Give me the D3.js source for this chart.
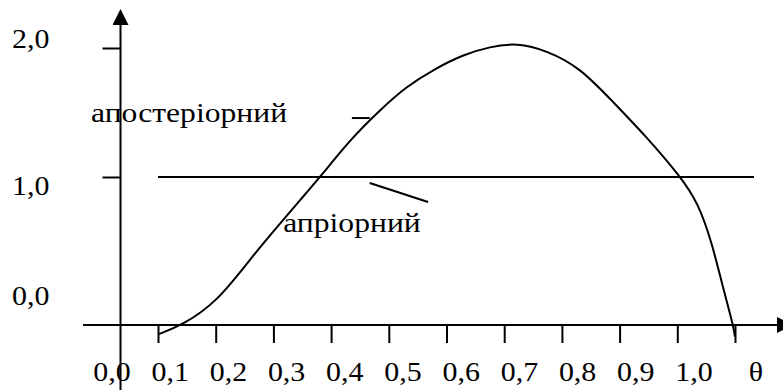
<!DOCTYPE html>
<html>
<head>
<meta charset="utf-8">
<script src="https://cdn.jsdelivr.net/npm/d3@7"></script>
<style>
  html, body { margin: 0; padding: 0; background: #fff; }
  svg { display: block; }
</style>
</head>
<body>
<script>
// Tick values and labels on the theta axis
const thetaTicks = [0, 0.1, 0.2, 0.3, 0.4, 0.5, 0.6, 0.7, 0.8, 0.9, 1.0];
const thetaLabels = ["0,0", "0,1", "0,2", "0,3", "0,4", "0,5", "0,6", "0,7", "0,8", "0,9", "1,0"];

// Density axis
const densityTicks = [1.0, 2.0];
const densityLabelValues = [2.0, 1.0, 0.0];
const densityLabels = ["2,0", "1,0", "0,0"];

// Posterior density
const posteriorTheta = [0.000, 0.042, 0.102, 0.159, 0.206, 0.246, 0.281, 0.333, 0.385, 0.430,
    0.480, 0.530, 0.575, 0.622, 0.674, 0.731, 0.789, 0.847, 0.906, 0.936, 0.960, 0.977, 0.997, 1.000];
const posteriorDensity = [-0.22, -0.15, 0.03, 0.36, 0.61, 0.82, 1.00, 1.29, 1.52, 1.70,
    1.84, 1.95, 2.01, 2.04, 1.98, 1.85, 1.58, 1.31, 1.00, 0.80, 0.49, 0.18, -0.15, -0.24];

// Prior (uniform) density
const priorTheta = [0.0, 1.033];
const priorDensity = [1.0, 1.0];

// Curve names
const posteriorName = "апостеріорний";
const priorName = "апріорний";

const width = 783, height = 390;
const fontFamily = "'Liberation Serif', serif";
const fontSize = 28;

const svg = d3.select("body")
    .append("svg")
    .attr("width", width)
    .attr("height", height);

// Scales
const x = d3.scaleLinear().domain([0, 1]).range([158, 735]);
const xLabel = d3.scaleLinear().domain([0, 1]).range([112, 694]); // labels sit off the ticks in the original
const y = d3.scaleLinear().domain([0, 2]).range([306, 48]);

const axisX = 120.5;   // vertical axis position (px)
const axisY = 325;     // horizontal axis position (px)

// the original picture is stretched sideways, so text gets a horizontal scale
function placeText(sel, px, py, sx) {
    sel.attr("transform", (d, i) => "translate(" + px(d, i) + "," + py(d, i) + ") scale(" + sx + ",1)")
        .attr("font-size", fontSize)
        .style("font-family", fontFamily)
        .attr("fill", "#000");
}

// Arrow marker
svg.append("defs").append("marker")
    .attr("id", "arrow")
    .attr("viewBox", "0 0 16 16")
    .attr("refX", 0)
    .attr("refY", 8)
    .attr("markerWidth", 16)
    .attr("markerHeight", 16)
    .attr("markerUnits", "userSpaceOnUse")
    .attr("orient", "auto")
    .append("path")
    .attr("d", "M0,0 L16,8 L0,16 Z")
    .attr("fill", "#000");

// Horizontal axis line with arrow
svg.append("line")
    .attr("x1", 83).attr("x2", 777)
    .attr("y1", axisY).attr("y2", axisY)
    .attr("stroke", "#000").attr("stroke-width", 2)
    .attr("marker-end", "url(#arrow)");

// Vertical axis line with arrow
svg.append("line")
    .attr("x1", axisX).attr("x2", axisX)
    .attr("y1", height).attr("y2", 25)
    .attr("stroke", "#000").attr("stroke-width", 2)
    .attr("marker-end", "url(#arrow)");

// Theta ticks (hanging below the axis)
const gx = svg.append("g")
    .attr("transform", "translate(0," + axisY + ")")
    .call(d3.axisBottom(x).tickValues(thetaTicks).tickSize(18).tickFormat(""));
gx.select(".domain").remove();
gx.selectAll(".tick line").attr("stroke", "#000").attr("stroke-width", 2);

// Theta labels
svg.append("g")
    .selectAll("text")
    .data(thetaTicks)
    .join("text")
    .attr("text-anchor", "middle")
    .text((d, i) => thetaLabels[i])
    .call(placeText, d => xLabel(d), () => 381, 1.07);

svg.append("text")
    .datum(0)
    .attr("text-anchor", "middle")
    .text("θ")
    .call(placeText, () => 756, () => 381, 1.07);

// Density ticks (to the left of the axis)
const gy = svg.append("g")
    .attr("transform", "translate(" + axisX + ",0)")
    .call(d3.axisLeft(y).tickValues(densityTicks).tickSize(18).tickFormat(""));
gy.select(".domain").remove();
gy.selectAll(".tick line").attr("stroke", "#000").attr("stroke-width", 2);

// Density labels (the "1,0" label sits a bit under its tick in the original)
const labelShift = { 2: 0, 1: 18, 0: -1 };
svg.append("g")
    .selectAll("text")
    .data(densityLabelValues)
    .join("text")
    .text((d, i) => densityLabels[i])
    .call(placeText, () => 12, d => y(d) + labelShift[d], 1.07);

// Prior line
const line = d3.line()
    .x(d => x(d[0]))
    .y(d => y(d[1]));

svg.append("path")
    .datum(priorTheta.map((t, i) => [t, priorDensity[i]]))
    .attr("d", line)
    .attr("fill", "none")
    .attr("stroke", "#000")
    .attr("stroke-width", 2);

// Posterior curve
svg.append("path")
    .datum(posteriorTheta.map((t, i) => [t, posteriorDensity[i]]))
    .attr("d", line.curve(d3.curveBasis))
    .attr("fill", "none")
    .attr("stroke", "#000")
    .attr("stroke-width", 2);

// Curve labels with leader lines
svg.append("text")
    .datum(0)
    .text(posteriorName)
    .call(placeText, () => x(-0.116), () => y(1.426), 1.13);

svg.append("line")
    .attr("x1", x(0.336)).attr("y1", y(1.457))
    .attr("x2", x(0.367)).attr("y2", y(1.457))
    .attr("stroke", "#000").attr("stroke-width", 2);

svg.append("text")
    .datum(0)
    .text(priorName)
    .call(placeText, () => x(0.217), () => y(0.574), 1.13);

svg.append("line")
    .attr("x1", x(0.367)).attr("y1", y(0.953))
    .attr("x2", x(0.468)).attr("y2", y(0.806))
    .attr("stroke", "#000").attr("stroke-width", 2);
</script>
</body>
</html>
